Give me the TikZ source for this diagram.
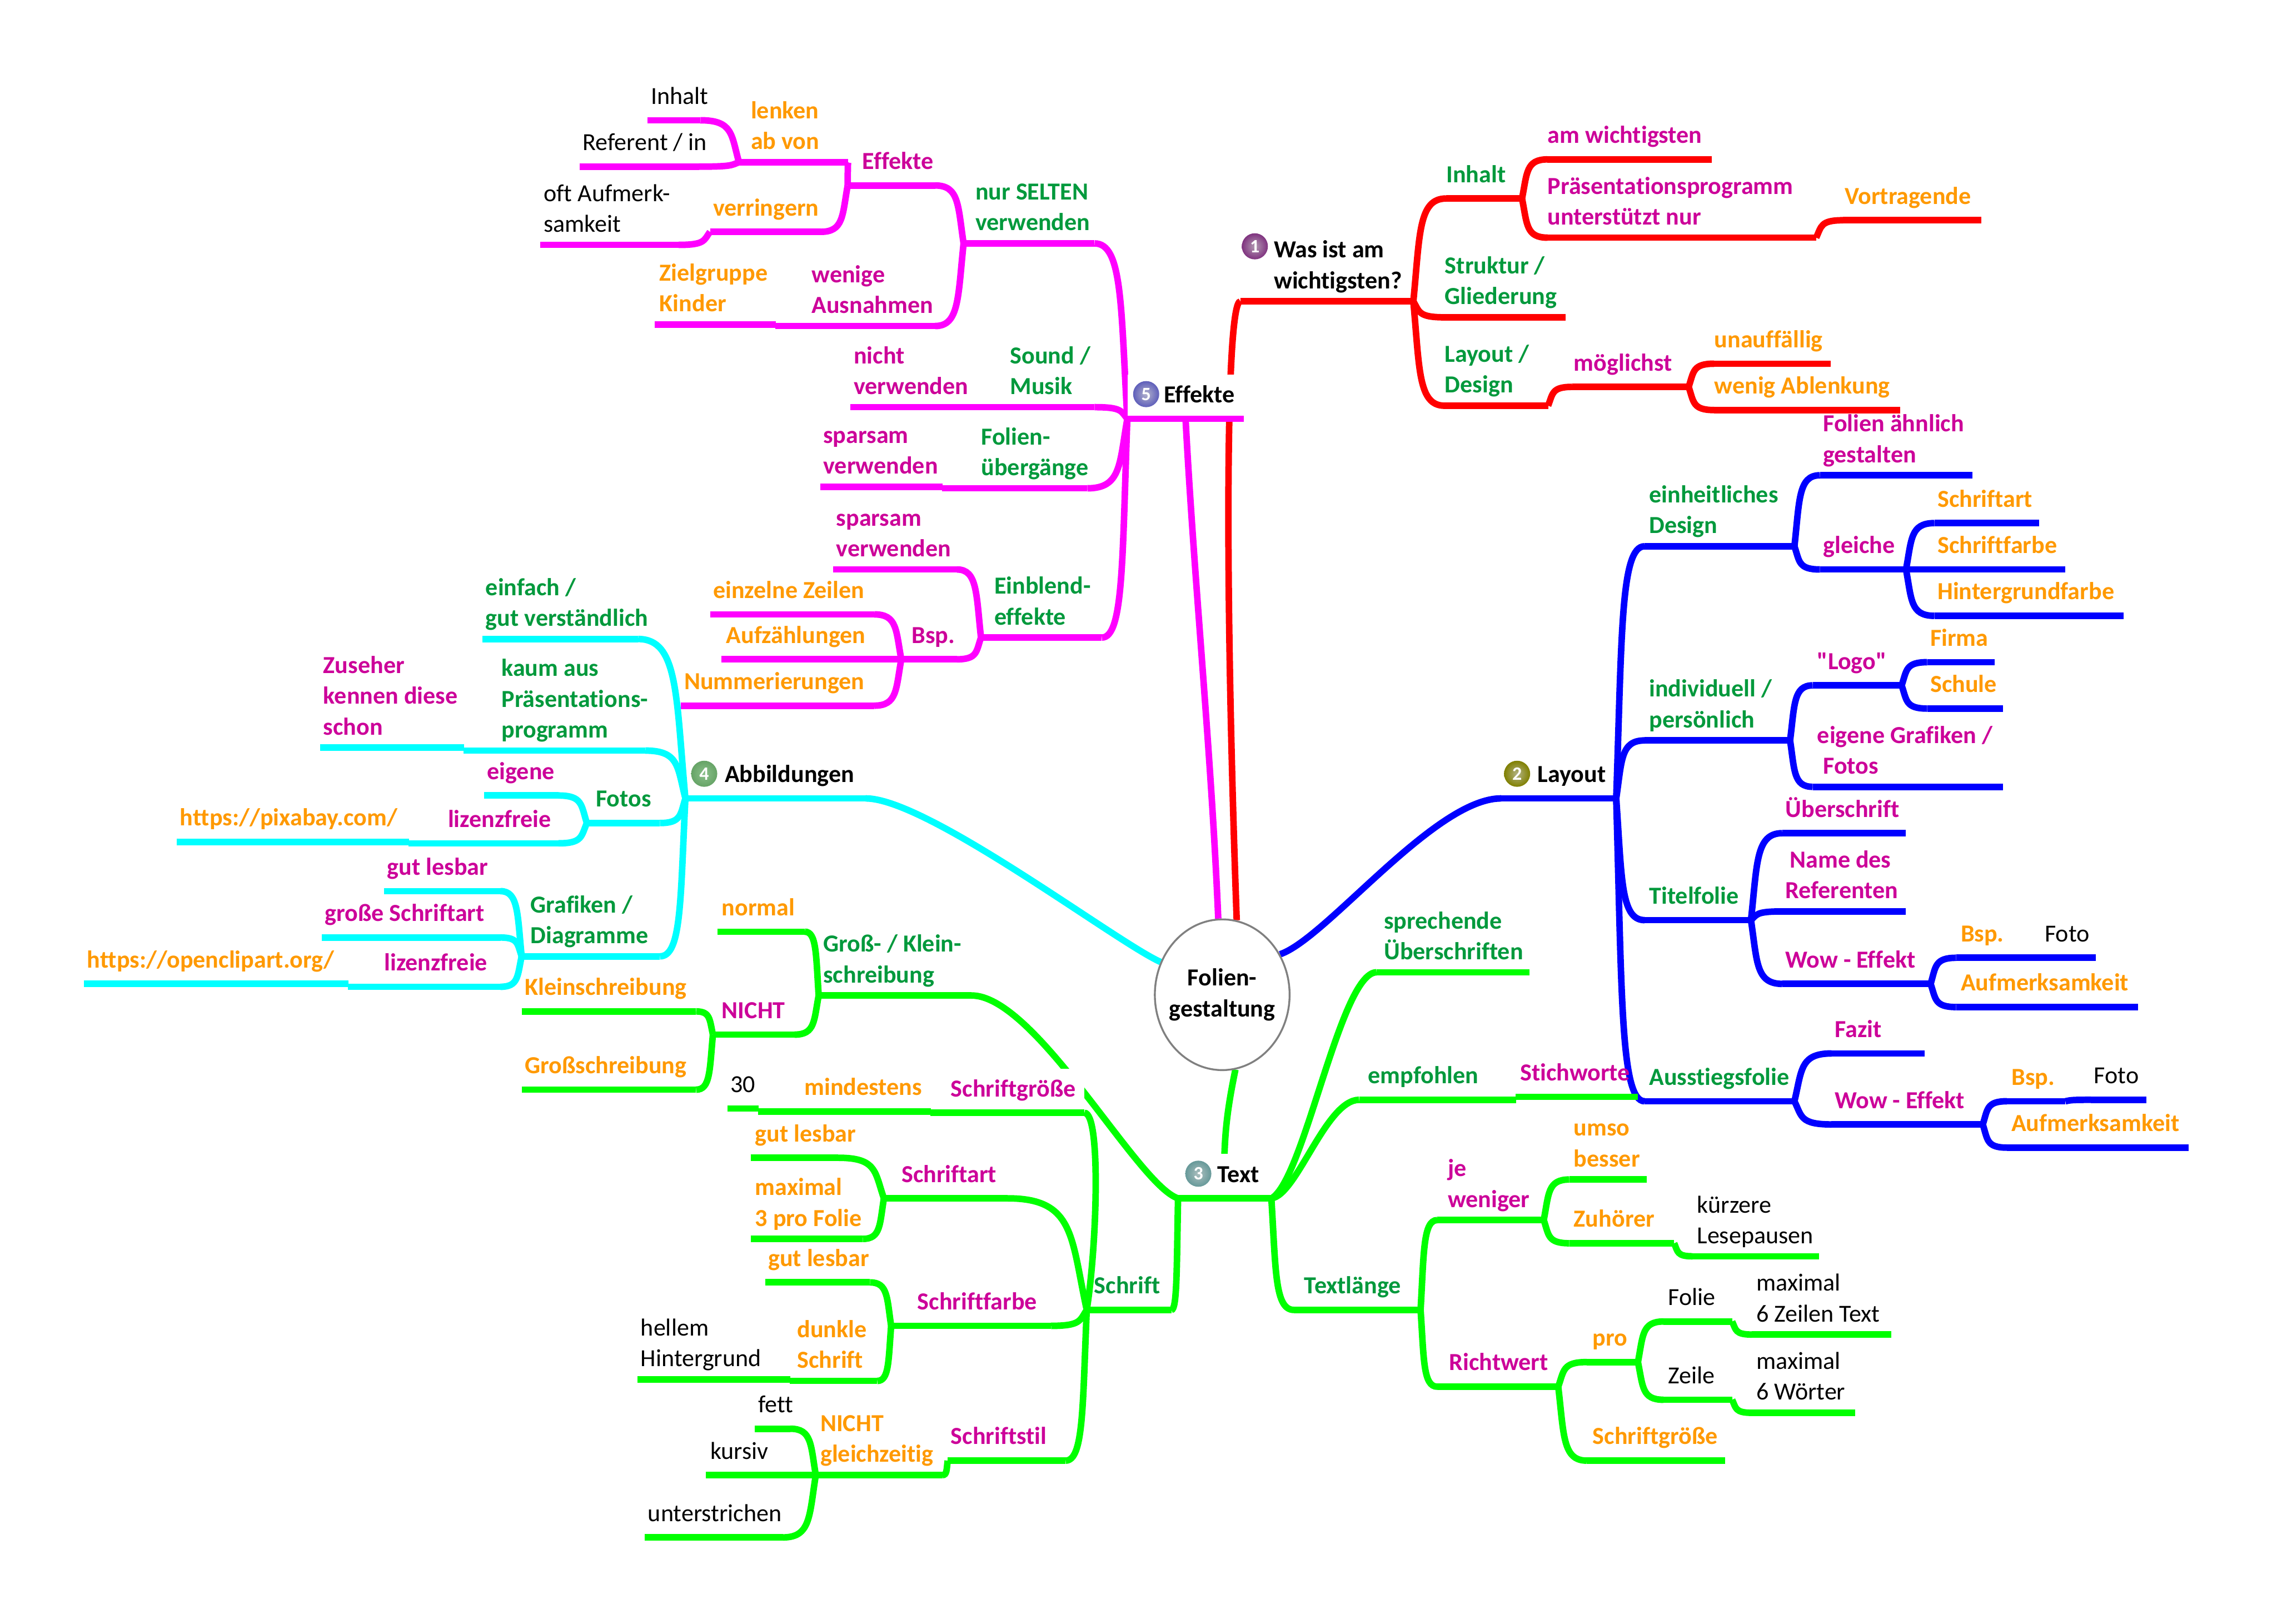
\documentclass[tikz,border=0pt]{standalone}
\usepackage{fontspec}
\setmainfont{Carlito}[Ligatures={CommonOff,TeXOff}]
\usetikzlibrary{shapes.geometric,calc,backgrounds}

\definecolor{lblgreen}{HTML}{00993C}
\definecolor{lblpink}{HTML}{CC0099}
\definecolor{lblorange}{HTML}{FF9900}
\definecolor{brgreen}{HTML}{00FF00}
\definecolor{brcyan}{HTML}{00FFFF}
\definecolor{brmagenta}{HTML}{FF00FF}
\definecolor{brred}{HTML}{FF0000}
\definecolor{brblue}{HTML}{0000FF}

\tikzset{
  topicbox/.style={anchor=south west,inner xsep=0pt,inner ysep=4.6pt,font=\fontsize{16.9}{21.2}\selectfont},
  two/.style={inner ysep=2.3pt},
  mainlbl/.style={text=black,font=\fontsize{16.9}{21.2}\selectfont\bfseries},
  lvlone/.style={text=lblgreen,font=\fontsize{16.9}{21.2}\selectfont\bfseries},
  lvltwo/.style={text=lblpink,font=\fontsize{16.9}{21.2}\selectfont\bfseries},
  lvlthree/.style={text=lblorange,font=\fontsize{16.9}{21.2}\selectfont\bfseries},
  leaf/.style={text=black},
  topicline/.style={draw=\branchcol,line width=4.5pt},
  trunk/.style={draw=\branchcol,line width=4.5pt},
  branch/.style={draw=\branchcol,line width=4.5pt,to path={let \p1=(\tikztostart),\p2=(\tikztotarget) in
    .. controls ({\x1+.2*(\x2-\x1)},{\y1+.65*(\y2-\y1)}) and ({\x1+.15*(\x2-\x1)},\y2) .. (\p2)}},
  numball/.style={circle,inner sep=0pt,minimum size=18pt,text=white,font=\fontsize{13}{13}\selectfont\bfseries},
}

% style, name, x left, x right, x of text, y of line, text
\newcommand{\topic}[7]{%
  \node[topicbox,#1] (#2) at (#3,#6) {\makebox[\dimexpr#4pt-#3pt\relax][l]{\hspace*{\dimexpr#5pt-#3pt\relax}\begin{tabular}[b]{@{}l@{}}#7\end{tabular}}};
  \draw[topicline] (#2.south west) -- (#2.south east);}
\newcommand{\linkr}[2]{\begin{scope}[on background layer]\draw[branch] (#1.south east) to (#2.south west);\end{scope}}
\newcommand{\linkl}[2]{\begin{scope}[on background layer]\draw[branch] (#1.south west) to (#2.south east);\end{scope}}

\begin{document}
\begin{tikzpicture}[x=1pt,y=-1pt]
\useasboundingbox (0,0) rectangle (1568,1120.4);

% Centre
\node[draw=gray,line width=1.3pt,fill=white,ellipse,minimum width=93pt,minimum height=104pt,inner sep=-8pt,align=center,font=\fontsize{16.9}{21.2}\selectfont\bfseries] (root) at (843.5,686.5) {Folien-\\gestaltung};

% Red branch
\def\branchcol{brred}
\topic{mainlbl,two}{was}{856}{975}{879}{208}{Was ist am\\wichtigsten?}
\node[numball,shading=radial,inner color=violet!30!gray!60,outer color=violet!60!gray] (num1) at (866,170) {1};
\begin{scope}[on background layer]
\draw[trunk] (root.79) .. controls (845,400) and (846,208) .. (was.south west);
\end{scope}
\topic{lvlone}{rInhalt}{998}{1050}{998}{137}{Inhalt}
\topic{lvlone,two}{rStruktur}{997}{1080}{997}{219}{Struktur /\\Gliederung}
\topic{lvlone,two}{rLayout}{997}{1068}{997}{280}{Layout /\\Design}
\linkr{was}{rInhalt}
\linkr{was}{rStruktur}
\linkr{was}{rLayout}
\topic{lvltwo}{rWichtig}{1068}{1181}{1068}{110}{am wichtigsten}
\topic{lvltwo,two}{rProgramm}{1068}{1253}{1068}{164}{Präsentationsprogramm\\unterstützt nur}
\topic{lvlthree}{rVortrag}{1272}{1367}{1273}{152}{Vortragende}
\linkr{rInhalt}{rWichtig}
\linkr{rInhalt}{rProgramm}
\linkr{rProgramm}{rVortrag}
\topic{lvltwo}{rMoeglich}{1085}{1165}{1086}{267}{möglichst}
\topic{lvlthree}{rUnauf}{1183}{1263}{1183}{251}{unauffällig}
\topic{lvlthree}{rWenig}{1183}{1311}{1183}{283}{wenig Ablenkung}
\linkr{rLayout}{rMoeglich}
\linkr{rMoeglich}{rUnauf}
\linkr{rMoeglich}{rWenig}

% Blue branch
\def\branchcol{brblue}
\topic{mainlbl}{lay}{1036}{1115}{1061}{551}{Layout}
\node[numball,shading=radial,inner color=olive!30!gray!60,outer color=olive!60!gray] (num2) at (1047,534) {2};
\begin{scope}[on background layer]
\draw[trunk] (root.35) .. controls (915,648) and (990,551) .. (lay.south west);
\end{scope}
\topic{lvlone,two}{bDesign}{1135}{1238}{1138}{377}{einheitliches\\Design}
\topic{lvlone,two}{bIndi}{1135}{1235}{1138}{511}{individuell /\\persönlich}
\topic{lvlone}{bTitel}{1135}{1208}{1138}{635}{Titelfolie}
\topic{lvlone}{bAus}{1135}{1238}{1138}{760}{Ausstiegsfolie}
\linkr{lay}{bDesign}
\linkr{lay}{bIndi}
\linkr{lay}{bTitel}
\linkr{lay}{bAus}
\topic{lvltwo,two}{bFolien}{1256}{1361}{1258}{328}{Folien ähnlich\\gestalten}
\topic{lvltwo}{bGleich}{1256}{1315}{1258}{393}{gleiche}
\linkr{bDesign}{bFolien}
\linkr{bDesign}{bGleich}
\topic{lvlthree}{bArt}{1335}{1407}{1337}{361}{Schriftart}
\topic{lvlthree}{bFarbe}{1335}{1425}{1337}{393}{Schriftfarbe}
\topic{lvlthree}{bGrund}{1335}{1465}{1337}{425}{Hintergrundfarbe}
\linkr{bGleich}{bArt}
\linkr{bGleich}{bFarbe}
\linkr{bGleich}{bGrund}
\topic{lvltwo}{bLogo}{1251}{1312}{1254}{473}{"Logo"}
\topic{lvltwo,two}{bEigen}{1251}{1382}{1254}{543}{eigene Grafiken /\\\hspace*{4pt}Fotos}
\linkr{bIndi}{bLogo}
\linkr{bIndi}{bEigen}
\topic{lvlthree}{bFirma}{1330}{1376}{1332}{457}{Firma}
\topic{lvlthree}{bSchule}{1330}{1382}{1332}{489}{Schule}
\linkr{bLogo}{bFirma}
\linkr{bLogo}{bSchule}
\topic{lvltwo}{bUeber}{1230}{1315}{1232}{575}{Überschrift}
\topic{lvltwo,two}{bName}{1230}{1315}{1232}{629}{\hspace*{3pt}Name des\\Referenten}
\topic{lvltwo}{bWow}{1230}{1332}{1232}{679}{Wow - Effekt}
\linkr{bTitel}{bUeber}
\linkr{bTitel}{bName}
\linkr{bTitel}{bWow}
\topic{lvlthree}{bBsp}{1350}{1394}{1353}{661}{Bsp.}
\topic{leaf}{bFoto}{1408}{1446}{1411}{661}{Foto}
\topic{lvlthree}{bAuf}{1350}{1475}{1353}{695}{Aufmerksamkeit}
\linkr{bWow}{bBsp}
\linkr{bBsp}{bFoto}
\linkr{bWow}{bAuf}
\topic{lvltwo}{bFazit}{1264}{1328}{1266}{727}{Fazit}
\topic{lvltwo}{bWowz}{1264}{1368}{1266}{776}{Wow - Effekt}
\linkr{bAus}{bFazit}
\linkr{bAus}{bWowz}
\topic{lvlthree}{bBspz}{1385}{1425}{1388}{760}{Bsp.}
\topic{leaf}{bFotoz}{1443}{1481}{1445}{759}{Foto}
\topic{lvlthree}{bAufz}{1385}{1510}{1388}{792}{Aufmerksamkeit}
\linkr{bWowz}{bBspz}
\linkr{bBspz}{bFotoz}
\linkr{bWowz}{bAufz}

% Green branch, right side
\def\branchcol{brgreen}
\topic{mainlbl,fill=white}{txt}{813}{877}{840}{827}{Text}
\node[numball,shading=radial,inner color=teal!30!gray!50,outer color=teal!50!gray!80] (num3) at (827,810) {3};
\begin{scope}[on background layer]
\draw[trunk] (root.-80) .. controls (846,770) and (844,790) .. (txt.south);
\end{scope}
\topic{lvlone,two}{gSprech}{950}{1055}{955}{671}{sprechende\\Überschriften}
\topic{lvlone}{gEmpf}{938}{1046}{944}{759}{empfohlen}
\topic{lvlone}{gLaenge}{893}{980}{900}{904}{Textlänge}
\topic{lvltwo}{gStich}{1046}{1130}{1049}{757}{Stichworte}
\begin{scope}[on background layer]
\draw[trunk] (txt.south east) .. controls (900,815) and (925,671) .. (gSprech.south west);
\draw[trunk] (txt.south east) .. controls (895,825) and (915,759) .. (gEmpf.south west);
\end{scope}
\linkr{gEmpf}{gStich}
\linkr{txt}{gLaenge}
\topic{lvltwo,two}{gWeniger}{992}{1065}{999}{842}{je\\weniger}
\topic{lvltwo}{gRicht}{992}{1075}{1000}{957}{Richtwert}
\linkr{gLaenge}{gWeniger}
\linkr{gLaenge}{gRicht}
\topic{lvlthree,two}{gUmso}{1083}{1136}{1086}{814}{umso\\besser}
\topic{lvlthree}{gZuh}{1083}{1155}{1086}{858}{Zuhörer}
\topic{leaf,two}{gKurz}{1168}{1255}{1171}{867}{kürzere\\Lesepausen}
\linkr{gWeniger}{gUmso}
\linkr{gWeniger}{gZuh}
\linkr{gZuh}{gKurz}
\topic{lvlthree}{gPro}{1095}{1130}{1099}{940}{pro}
\topic{lvlthree}{gGroesse}{1095}{1190}{1099}{1008}{Schriftgröße}
\linkr{gRicht}{gPro}
\linkr{gRicht}{gGroesse}
\topic{leaf}{gFolie}{1148}{1195}{1151}{912}{Folie}
\topic{leaf}{gZeile}{1148}{1195}{1151}{966}{Zeile}
\topic{leaf,two}{gMaxa}{1209}{1305}{1212}{921}{maximal\\6 Zeilen Text}
\topic{leaf,two}{gMaxb}{1209}{1280}{1212}{975}{maximal\\6 Wörter}
\linkr{gPro}{gFolie}
\linkr{gPro}{gZeile}
\linkr{gFolie}{gMaxa}
\linkr{gZeile}{gMaxb}

% Green branch, left side
\topic{lvlone,two}{gGross}{565}{670}{568}{687}{Groß- / Klein-\\schreibung}
\begin{scope}[on background layer]
\draw[trunk] (txt.south west) .. controls (785,818) and (715,687) .. (gGross.south east);
\end{scope}
\topic{lvlone}{gSchrift}{750}{808}{755}{904}{Schrift}
\linkl{txt}{gSchrift}
\topic{lvlthree}{gNormal}{495}{555}{498}{643}{normal}
\topic{lvltwo}{gNicht}{492}{548}{498}{714}{NICHT}
\linkl{gGross}{gNormal}
\linkl{gGross}{gNicht}
\topic{lvlthree}{gKlein}{360}{480}{362}{698}{Kleinschreibung}
\topic{lvlthree}{gGrossb}{360}{480}{362}{752}{Großschreibung}
\linkl{gNicht}{gKlein}
\linkl{gNicht}{gGrossb}
\topic{lvltwo,fill=white}{gSize}{642}{748}{656}{768}{Schriftgröße}
\topic{lvlthree}{gMind}{523}{642}{555}{767}{mindestens}
\topic{leaf}{gDreissig}{502}{523}{504}{765}{30}
\begin{scope}[on background layer]
\draw[trunk] (gSchrift.south west) .. controls (757,860) and (760,768) .. (gSize.south east);
\end{scope}
\linkl{gSize}{gMind}
\linkl{gMind}{gDreissig}
\topic{lvltwo}{gArt}{610}{695}{622}{827}{Schriftart}
\topic{lvlthree}{gLesbar}{518}{578}{521}{799}{gut lesbar}
\topic{lvlthree,two}{gMaxi}{518}{595}{521}{855}{maximal\\3 pro Folie}
\linkl{gSchrift}{gArt}
\linkl{gArt}{gLesbar}
\linkl{gArt}{gMaxi}
\topic{lvltwo}{gFarbe}{615}{725}{633}{915}{Schriftfarbe}
\topic{lvlthree}{gLesbarb}{528}{600}{530}{885}{gut lesbar}
\topic{lvlthree,two}{gDunkel}{545}{605}{550}{953}{dunkle\\Schrift}
\topic{leaf,two}{gHell}{440}{545}{442}{952}{hellem\\Hintergrund}
\linkl{gSchrift}{gFarbe}
\linkl{gFarbe}{gLesbarb}
\linkl{gFarbe}{gDunkel}
\linkl{gDunkel}{gHell}
\topic{lvltwo}{gStil}{654}{735}{656}{1008}{Schriftstil}
\topic{lvlthree,two}{gGleich}{563}{650}{566}{1018}{NICHT\\gleichzeitig}
\topic{leaf}{gFett}{521}{545}{523}{986}{fett}
\topic{leaf}{gKursiv}{487}{563}{490}{1018}{kursiv}
\topic{leaf}{gUnter}{445}{540}{447}{1061}{unterstrichen}
\linkl{gSchrift}{gStil}
\linkl{gStil}{gGleich}
\linkl{gGleich}{gFett}
\linkl{gGleich}{gKursiv}
\linkl{gGleich}{gUnter}

% Cyan branch
\def\branchcol{brcyan}
\topic{mainlbl}{abb}{473}{597}{500}{551}{Abbildungen}
\node[numball,shading=radial,inner color=green!30!gray!70,outer color=green!40!black!60] (num4) at (486,534) {4};
\begin{scope}[on background layer]
\draw[trunk] (root.152) .. controls (770,650) and (640,551) .. (abb.south east);
\end{scope}
\topic{lvlone,two}{cEinfach}{333}{440}{335}{441}{einfach /\\gut verständlich}
\topic{lvlone,two}{cKaum}{320}{445}{346}{518}{kaum aus\\Präsentations-\\programm}
\topic{lvltwo,two}{cZuseher}{221}{320}{223}{516}{Zuseher\\kennen diese\\schon}
\topic{lvlone}{cFotos}{405}{455}{411}{568}{Fotos}
\topic{lvlone,two}{cGrafik}{360}{455}{366}{660}{Grafiken /\\Diagramme}
\linkl{abb}{cEinfach}
\linkl{abb}{cKaum}
\linkl{cKaum}{cZuseher}
\linkl{abb}{cFotos}
\linkl{abb}{cGrafik}
\topic{lvltwo}{cEigene}{334}{385}{336}{549}{eigene}
\topic{lvltwo}{cLizenz}{282}{385}{309}{582}{lizenzfreie}
\topic{lvlthree}{cPixa}{122}{282}{124}{581}{https://pixabay.com/}
\linkl{cFotos}{cEigene}
\linkl{cFotos}{cLizenz}
\linkl{cLizenz}{cPixa}
\topic{lvltwo}{cLesbar}{265}{345}{267}{615}{gut lesbar}
\topic{lvltwo}{cGrosse}{222}{345}{224}{647}{große Schriftart}
\topic{lvltwo}{cLizenzb}{240}{345}{265}{681}{lizenzfreie}
\topic{lvlthree}{cClip}{58}{240}{60}{679}{https://openclipart.org/}
\linkl{cGrafik}{cLesbar}
\linkl{cGrafik}{cGrosse}
\linkl{cGrafik}{cLizenzb}
\linkl{cLizenzb}{cClip}

% Magenta branch
\def\branchcol{brmagenta}
\topic{mainlbl,fill=white}{eff}{778}{858}{803}{289}{Effekte}
\node[numball,shading=radial,inner color=blue!20!gray!50,outer color=blue!40!gray!90] (num5) at (791,272) {5};
\begin{scope}[on background layer]
\draw[trunk] (root.93) .. controls (836,520) and (824,400) .. (eff.south);
\end{scope}
\topic{lvlone,two}{mSelten}{665}{755}{673}{168}{nur SELTEN\\verwenden}
\topic{lvlone,two}{mSound}{672}{755}{697}{281}{Sound /\\Musik}
\topic{lvlone,two}{mUeberg}{650}{750}{677}{337}{Folien-\\übergänge}
\topic{lvlone,two}{mEinbl}{677}{760}{686}{440}{Einblend-\\effekte}
\linkl{eff}{mSelten}
\linkl{eff}{mSound}
\linkl{eff}{mUeberg}
\linkl{eff}{mEinbl}
\topic{lvltwo}{mEffekte}{585}{645}{595}{128}{Effekte}
\topic{lvlthree,two}{mLenken}{510}{585}{518}{112}{lenken\\ab von}
\topic{leaf}{mInhalt}{447}{483}{449}{83}{Inhalt}
\topic{leaf}{mRef}{400}{482}{402}{115}{Referent / in}
\topic{lvlthree}{mVerr}{490}{566}{492}{160}{verringern}
\topic{leaf,two}{mOft}{373}{468}{375}{169}{oft Aufmerk-\\samkeit}
\topic{lvltwo,two}{mWenige}{535}{645}{560}{225}{wenige\\Ausnahmen}
\topic{lvlthree,two}{mZiel}{452}{535}{455}{224}{Zielgruppe\\Kinder}
\linkl{mSelten}{mEffekte}
\linkl{mSelten}{mWenige}
\linkl{mEffekte}{mLenken}
\linkl{mEffekte}{mVerr}
\linkl{mLenken}{mInhalt}
\linkl{mLenken}{mRef}
\linkl{mVerr}{mOft}
\linkl{mWenige}{mZiel}
\topic{lvltwo,two}{mNicht}{587}{672}{589}{281}{nicht\\verwenden}
\topic{lvltwo,two}{mSparsam}{566}{650}{568}{336}{sparsam\\verwenden}
\linkl{mSound}{mNicht}
\linkl{mUeberg}{mSparsam}
\topic{lvltwo,two}{mSparb}{575}{660}{577}{393}{sparsam\\verwenden}
\topic{lvltwo}{mBsp}{622}{660}{629}{455}{Bsp.}
\linkl{mEinbl}{mSparb}
\linkl{mEinbl}{mBsp}
\topic{lvlthree}{mZeilen}{490}{603}{492}{424}{einzelne Zeilen}
\topic{lvlthree}{mAufz}{498}{622}{501}{455}{Aufzählungen}
\topic{lvlthree}{mNumm}{470}{603}{472}{487}{Nummerierungen}
\linkl{mBsp}{mZeilen}
\linkl{mBsp}{mAufz}
\linkl{mBsp}{mNumm}

\end{tikzpicture}
\end{document}
